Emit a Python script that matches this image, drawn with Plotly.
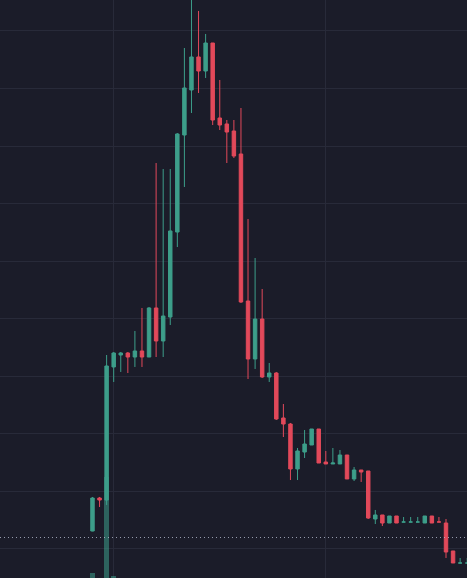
import plotly.graph_objects as go

# candle data, one entry per bar (left to right)
opens = [13.04, 18.78, 18.43, 41.57, 43.65, 44.00, 43.30, 44.35, 43.30, 51.83,
         46.09, 50.26, 65.04, 81.91, 89.74, 95.48, 93.04, 97.91, 84.87, 83.83,
         82.61, 78.61, 53.04, 42.96, 49.91, 39.83, 40.52, 32.70, 31.65, 23.83,
         26.78, 28.00, 30.78, 25.04, 24.70, 24.70, 26.26, 22.09, 23.65, 23.48,
         15.13, 15.83, 14.43, 15.65, 14.60, 14.60, 14.60, 14.43, 15.65, 14.62,
         14.43, 9.57, 7.47, 7.47]
highs = [18.96, 18.96, 43.65, 44.17, 44.17, 44.17, 47.83, 51.83, 52.00, 77.04,
         76.00, 76.00, 82.26, 97.04, 106.26, 103.48, 99.48, 97.91, 91.48, 84.52,
         84.52, 86.61, 67.30, 60.52, 55.13, 42.26, 40.70, 35.13, 31.83, 27.48,
         30.61, 30.78, 30.78, 26.96, 27.48, 27.13, 26.26, 24.17, 23.65, 23.48,
         16.70, 15.83, 15.65, 15.65, 15.48, 15.48, 15.48, 15.65, 15.65, 15.48,
         15.13, 9.57, 8.35, 8.35]
lows = [13.00, 17.22, 17.57, 38.96, 40.70, 40.52, 41.57, 41.57, 43.30, 43.30,
        43.30, 48.87, 62.43, 72.87, 85.74, 89.22, 91.83, 83.65, 82.78, 77.04,
        77.91, 52.70, 39.48, 41.22, 39.65, 38.96, 32.35, 29.39, 21.91, 21.91,
        25.74, 28.00, 24.87, 24.70, 24.70, 24.70, 22.09, 21.74, 21.57, 15.13,
        14.26, 13.91, 14.43, 14.43, 14.60, 14.60, 14.60, 14.43, 14.43, 14.61,
        8.35, 7.48, 7.47, 7.47]
closes = [18.78, 18.43, 41.74, 44.00, 44.00, 43.30, 44.35, 43.30, 51.83, 46.09,
          50.43, 65.22, 82.09, 90.09, 95.48, 93.04, 97.91, 84.52, 83.65, 82.43,
          78.26, 52.87, 42.96, 49.91, 39.83, 40.52, 32.52, 31.65, 23.83, 26.96,
          28.17, 30.78, 24.87, 24.70, 24.87, 26.26, 22.09, 23.65, 23.30, 15.30,
          15.83, 14.43, 15.65, 14.43, 14.61, 14.61, 14.61, 15.65, 14.43, 14.61,
          9.39, 7.48, 7.48, 7.48]
volumes = [50, 1, 1000, 20, 1, 1, 1, 1, 1, 1,
           1, 1, 1, 1, 1, 1, 1, 1, 1, 1,
           1, 1, 1, 1, 1, 1, 1, 1, 1, 1,
           1, 1, 1, 1, 1, 1, 1, 1, 1, 1,
           1, 1, 1, 1, 1, 1, 1, 1, 1, 1,
           1, 1, 1, 1]
last_price = 11.91

UP = '#3d9e8a'
DOWN = '#e2495a'
UP_VOL = 'rgba(61,158,138,0.55)'
DOWN_VOL = 'rgba(226,73,90,0.55)'
BG = '#1b1c29'
GRID = '#282a39'

bars = list(range(len(opens)))
vol_colors = [UP_VOL if c >= o else DOWN_VOL for o, c in zip(opens, closes)]

fig = go.Figure()

fig.add_trace(go.Candlestick(
  x=bars, open=opens, high=highs, low=lows, close=closes,
  increasing=dict(line=dict(color=UP, width=1), fillcolor=UP),
  decreasing=dict(line=dict(color=DOWN, width=1), fillcolor=DOWN),
  showlegend=False, hoverinfo='skip'))

fig.add_trace(go.Bar(
  x=bars, y=volumes, yaxis='y2', marker=dict(color=vol_colors, line=dict(width=0)),
  width=0.75, showlegend=False, hoverinfo='skip'))

# last price marker line
fig.add_hline(y=last_price, line=dict(color='rgba(185,190,210,0.8)', width=1, dash='1px,3px'))

fig.update_layout(
  width=467, height=578, autosize=False,
  margin=dict(l=0, r=0, t=0, b=0),
  paper_bgcolor=BG, plot_bgcolor=BG,
  xaxis=dict(range=[-13.08, 52.97], tick0=3, dtick=30, showgrid=True,
             gridcolor=GRID, gridwidth=1, zeroline=False, showticklabels=False,
             rangeslider=dict(visible=False), fixedrange=True),
  yaxis=dict(range=[4.87, 105.39], tick0=0, dtick=10, showgrid=True,
             gridcolor=GRID, gridwidth=1, zeroline=False, showticklabels=False,
             fixedrange=True),
  yaxis2=dict(overlaying='y', range=[0, 5723], visible=False, showgrid=False,
              fixedrange=True),
  bargap=0,
)

# page body has a default 8px margin; drop it so the chart fills the window
fig.write_html('out.html', config={'displayModeBar': False},
               post_script="document.body.style.margin='0';document.body.style.overflow='hidden';")
